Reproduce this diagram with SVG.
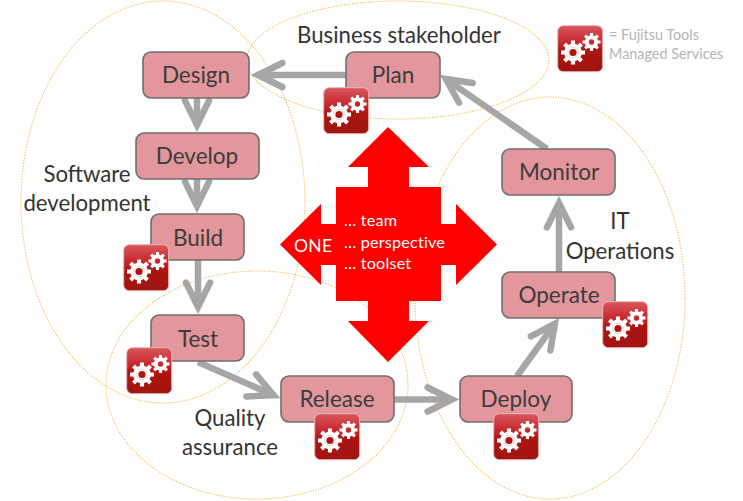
<svg xmlns="http://www.w3.org/2000/svg" xmlns:xlink="http://www.w3.org/1999/xlink" width="743" height="501" viewBox="0 0 743 501">
<style>
text{font-family:"Lato","Liberation Sans",sans-serif}
.scope{fill:none;stroke:#f5b942;stroke-width:1.1;stroke-dasharray:1.2 1.5}
.box{fill:#e3979d;stroke:#6f6f6f;stroke-width:1.6}
.nodelabel{font-size:22.500px;fill:#3c3c3c;text-anchor:middle}
.grouplabel{font-size:22.200px;fill:#333;text-anchor:middle}
.flow{fill:none;stroke:#a6a6a6;stroke-width:6.500}
.inner{font-size:16.200px;fill:#fff;letter-spacing:.2px}
.tooth{fill:#fff}
</style>
<defs>
<linearGradient id="badgeFill" x1="0" y1="0" x2="0" y2="1">
<stop offset="0" stop-color="#d9575c"/><stop offset=".45" stop-color="#c21d22"/><stop offset=".52" stop-color="#ae1611"/><stop offset="1" stop-color="#a01410"/>
</linearGradient>
<marker id="chevron" viewBox="-1 -2 14 14" refX="9.300" refY="5" markerWidth="7" markerHeight="7" orient="auto" markerUnits="strokeWidth" overflow="visible">
<path d="M1.500 1.300 9 5 1.500 8.700" fill="none" stroke="#a6a6a6" stroke-width="2" stroke-linecap="round"/>
</marker>
<!-- eight-toothed cog, radius 10 -->
<g id="cog">
<path class="tooth" fill-rule="evenodd" d="M-7.400 0a7.400 7.400 0 1 0 14.800 0a7.400 7.400 0 1 0-14.800 0zM-3 0a3 3 0 1 0 6 0a3 3 0 1 0-6 0z"/>
<rect class="tooth" x="-1.700" y="-10" width="3.400" height="4"/>
<rect class="tooth" x="-1.700" y="-10" width="3.400" height="4" transform="rotate(45)"/>
<rect class="tooth" x="-1.700" y="-10" width="3.400" height="4" transform="rotate(90)"/>
<rect class="tooth" x="-1.700" y="-10" width="3.400" height="4" transform="rotate(135)"/>
<rect class="tooth" x="-1.700" y="-10" width="3.400" height="4" transform="rotate(180)"/>
<rect class="tooth" x="-1.700" y="-10" width="3.400" height="4" transform="rotate(225)"/>
<rect class="tooth" x="-1.700" y="-10" width="3.400" height="4" transform="rotate(270)"/>
<rect class="tooth" x="-1.700" y="-10" width="3.400" height="4" transform="rotate(315)"/>
</g>
<g id="badge">
<rect x=".7" y=".7" width="45" height="46" rx="5.500" fill="url(#badgeFill)" stroke="#e8b8b8" stroke-width="1"/>
<use xlink:href="#cog" transform="translate(16 27.500) scale(1.200)"/>
<circle cx="16" cy="27.500" r="5.200" fill="none" stroke="#f6c5c8" stroke-width=".8"/>
<use xlink:href="#cog" transform="translate(34.500 17) scale(.9)"/>
</g>
</defs>

<g id="scopes">
<ellipse class="scope" cx="398" cy="60" rx="151" ry="59"/>
<ellipse class="scope" cx="163" cy="202" rx="142" ry="201"/>
<ellipse class="scope" cx="257" cy="385" rx="151" ry="114"/>
<ellipse class="scope" cx="550" cy="298" rx="135" ry="201"/>
</g>

<g id="hub">
<path d="M388 127 429 167H409V187H441V224H456V204L497 244.500 456 285V265H441V301H409V321H429L388 362 348 321H368V301H336V265H321V285L280 244.500 321 204V224H336V187H368V167H348Z" fill="#f00"/>
<text class="inner" x="294" y="252" style="font-size:17.500px;letter-spacing:.3px">ONE</text>
<text class="inner" x="344" y="226">… team</text>
<text class="inner" x="344" y="248">… perspective</text>
<text class="inner" x="344" y="269">… toolset</text>
</g>

<g id="connectors">
<path class="flow" marker-end="url(#chevron)" d="M346 75H257"/>
<path class="flow" marker-end="url(#chevron)" d="M197 98V126"/>
<path class="flow" marker-end="url(#chevron)" d="M197 179V207"/>
<path class="flow" marker-end="url(#chevron)" d="M198 260V308"/>
<path class="flow" marker-end="url(#chevron)" d="M198 362 274.500 395.600"/>
<path class="flow" marker-end="url(#chevron)" d="M394 399.500H453"/>
<path class="flow" marker-end="url(#chevron)" d="M517 376 555.500 322.900"/>
<path class="flow" marker-end="url(#chevron)" d="M559 272V202"/>
<path class="flow" marker-end="url(#chevron)" d="M547 149 445 78.400"/>
</g>

<g id="design"><rect class="box" x="143" y="52" width="106" height="46" rx="8"/><text class="nodelabel" x="196" y="83">Design</text></g>
<g id="plan"><rect class="box" x="346" y="52" width="94" height="46" rx="8"/><text class="nodelabel" x="393" y="83">Plan</text></g>
<g id="develop"><rect class="box" x="136" y="133" width="123" height="46" rx="8"/><text class="nodelabel" x="197" y="164">Develop</text></g>
<g id="build"><rect class="box" x="151" y="214" width="93" height="46" rx="8"/><text class="nodelabel" x="198" y="246">Build</text></g>
<g id="test"><rect class="box" x="151" y="315" width="93" height="46" rx="8"/><text class="nodelabel" x="198" y="347">Test</text></g>
<g id="release"><rect class="box" x="281" y="376" width="113" height="46" rx="8"/><text class="nodelabel" x="337" y="407">Release</text></g>
<g id="deploy"><rect class="box" x="460" y="376" width="112" height="46" rx="8"/><text class="nodelabel" x="516" y="407">Deploy</text></g>
<g id="operate"><rect class="box" x="502" y="272" width="113" height="46" rx="8"/><text class="nodelabel" x="559" y="303">Operate</text></g>
<g id="monitor"><rect class="box" x="502" y="149" width="113" height="46" rx="8"/><text class="nodelabel" x="559" y="180">Monitor</text></g>

<g id="badges">
<use xlink:href="#badge" x="557" y="25"/>
<use xlink:href="#badge" x="323" y="87"/>
<use xlink:href="#badge" x="123" y="244"/>
<use xlink:href="#badge" x="126" y="347"/>
<use xlink:href="#badge" x="314" y="413"/>
<use xlink:href="#badge" x="493" y="413"/>
<use xlink:href="#badge" x="602" y="301"/>
</g>

<g id="labels">
<text class="grouplabel" x="399" y="43">Business stakeholder</text>
<text class="grouplabel" x="87" y="182">Software</text>
<text class="grouplabel" x="87" y="211">development</text>
<text class="grouplabel" x="230" y="426">Quality</text>
<text class="grouplabel" x="230" y="455">assurance</text>
<text class="grouplabel" x="620" y="229">IT</text>
<text class="grouplabel" x="620" y="259">Operations</text>
<text x="609" y="40" font-size="14.400" fill="#b5b5b5">= Fujitsu Tools</text>
<text x="609" y="59" font-size="14.400" fill="#b5b5b5">Managed Services</text>
</g>
</svg>
